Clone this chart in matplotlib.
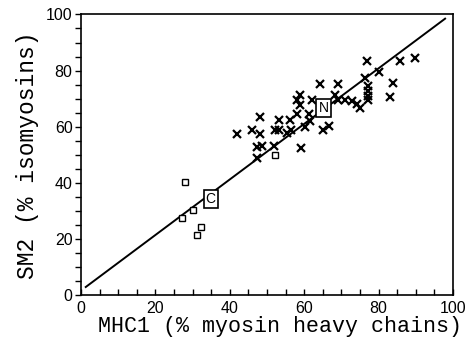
import matplotlib
matplotlib.use("Agg")
import matplotlib.pyplot as plt
from matplotlib.ticker import MultipleLocator

# SM2 vs MHC1 (adult / "N" group, crosses)
x_cross = [42.0, 46.0, 48.1, 48.1, 47.4, 48.7, 47.4, 51.8, 52.3, 53.2, 53.2,
           56.1, 55.4, 56.5, 58.1, 59.0, 58.1, 59.0, 59.2, 61.2, 62.1, 60.3,
           61.7, 64.2, 65.2, 66.8, 69.2, 68.4, 69.2, 71.0, 72.8, 74.2, 75.1,
           76.4, 76.9, 77.3, 77.3, 77.3, 77.3, 80.0, 84.0, 83.1, 85.8, 89.8]
y_cross = [57.4, 58.7, 57.4, 63.5, 52.8, 53.2, 48.8, 53.2, 58.7, 58.7, 62.5,
           62.5, 57.7, 58.7, 64.6, 71.4, 69.6, 67.9, 52.4, 64.6, 69.4, 59.9,
           61.9, 75.4, 58.9, 60.4, 75.4, 71.4, 69.6, 69.6, 69.0, 68.1, 66.7,
           77.4, 83.3, 74.4, 72.6, 70.8, 69.6, 79.5, 75.6, 70.6, 83.3, 84.5]

# "C" group, squares
x_square = [28.0, 27.1, 30.1, 32.2, 31.1, 52.3]
y_square = [40.4, 27.4, 30.2, 24.2, 21.3, 50.0]

# group mean labels
label_text = ["N", "C"]
label_x = [65.2, 34.9]
label_y = [66.7, 34.2]

# regression line
line_x = [1.3, 97.9]
line_y = [2.9, 98.5]

fig = plt.figure(figsize=(4.65, 3.44), dpi=100)
ax = fig.add_axes([0.174, 0.142, 0.800, 0.816])

ax.plot(line_x, line_y, color="black", lw=1.4, zorder=2)
ax.plot(x_cross, y_cross, linestyle="none", marker="x", color="black",
        markersize=6.3, markeredgewidth=1.6, zorder=3)
ax.plot(x_square, y_square, linestyle="none", marker="s", markersize=5,
        markerfacecolor="white", markeredgecolor="black",
        markeredgewidth=1.0, zorder=3)
for t, lx, ly in zip(label_text, label_x, label_y):
    ax.text(lx, ly, t, ha="center", va="center", fontsize=10,
            family="Liberation Sans", zorder=4,
            bbox=dict(boxstyle="square,pad=0.15", fc="white", ec="black", lw=1.2))

ax.set_xlim(0, 100)
ax.set_ylim(0, 100)
ax.xaxis.set_major_locator(MultipleLocator(20))
ax.xaxis.set_minor_locator(MultipleLocator(5))
ax.yaxis.set_major_locator(MultipleLocator(20))
ax.yaxis.set_minor_locator(MultipleLocator(5))
ax.tick_params(axis="x", which="both", direction="in", top=False,
               length=4, width=1, pad=4)
ax.tick_params(axis="y", which="both", direction="out", right=False,
               length=4, width=1, pad=2)
for lab in ax.get_xticklabels() + ax.get_yticklabels():
    lab.set_fontfamily("Liberation Sans")
    lab.set_fontsize(11.5)
for s in ax.spines.values():
    s.set_linewidth(1.2)

ax.set_xlabel("MHC1 (% myosin heavy chains)", family="Liberation Mono",
              fontsize=15.6, labelpad=0)
ax.xaxis.set_label_coords(0.535, -0.075)
ax.set_ylabel("SM2 (% isomyosins)", family="Liberation Mono",
              fontsize=16.5, labelpad=5)

fig.savefig("out.png", dpi=100)
